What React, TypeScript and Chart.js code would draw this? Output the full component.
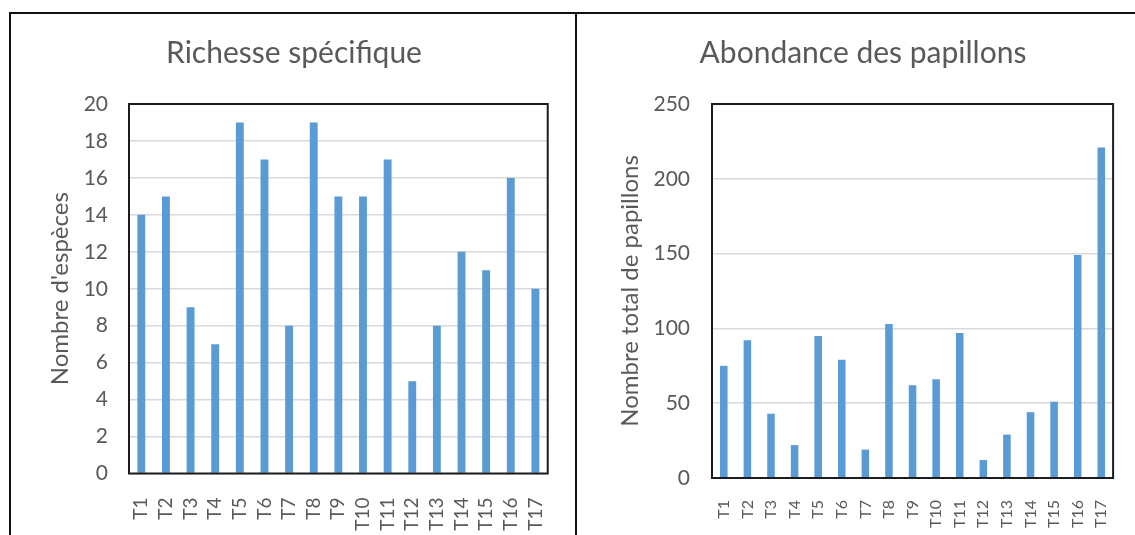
import React, { useEffect, useRef } from "react";
import { Chart, registerables } from "chart.js";

Chart.register(...registerables);

// ---- data ----
const categories = ["T1", "T2", "T3", "T4", "T5", "T6", "T7", "T8", "T9", "T10", "T11", "T12", "T13", "T14", "T15", "T16", "T17"];
const richnessValues = [14, 15, 9, 7, 19, 17, 8, 19, 15, 15, 17, 5, 8, 12, 11, 16, 10];
const abundanceValues = [75, 92, 43, 22, 95, 79, 19, 103, 62, 66, 97, 12, 29, 44, 51, 149, 221];
const richnessTitle = "Richesse spécifique";
const richnessAxisTitle = "Nombre d'espèces";
const abundanceTitle = "Abondance des papillons";
const abundanceAxisTitle = "Nombre total de papillons";
const richnessMax = 20;
const richnessStep = 2;
const abundanceMax = 250;
const abundanceStep = 50;

const FONT = "Lato";
const TEXT = "#595959";
const BAR = "#5B9BD5";
const GRID = "#D9D9D9";

const plotBorder = {
  id: "plotBorder",
  afterDatasetsDraw(chart: any) {
    const { ctx, chartArea: a } = chart;
    ctx.save();
    ctx.strokeStyle = "#1c1c1c";
    ctx.lineWidth = 2;
    ctx.strokeRect(a.left, a.top, a.right - a.left, a.bottom - a.top);
    ctx.restore();
  },
};

type P = {
  values: number[];
  title: string;
  yTitle: string;
  max: number;
  step: number;
  padLeft: number;
  padRight: number;
  yWidth: number;
  yTitlePad: number;
  yPad: number;
  xHeight: number;
  xPad: number;
  xFont: number;
};

function makeConfig(p: P): any {
  return {
    type: "bar",
    data: {
      labels: categories,
      datasets: [
        {
          data: p.values,
          backgroundColor: BAR,
          borderWidth: 0,
          barPercentage: 0.32,
          categoryPercentage: 1,
        },
      ],
    },
    options: {
      responsive: false,
      animation: false,
      layout: { padding: { left: p.padLeft, right: p.padRight, top: 0, bottom: 0 } },
      plugins: {
        legend: { display: false },
        tooltip: { enabled: false },
        title: {
          display: true,
          text: p.title,
          color: TEXT,
          font: { family: FONT, size: 30, weight: "normal", lineHeight: 1.2 },
          padding: { top: 21, bottom: 33 },
        },
      },
      scales: {
        x: {
          grid: { display: false },
          border: { display: false },
          ticks: {
            color: TEXT,
            font: { family: FONT, size: p.xFont },
            minRotation: 90,
            maxRotation: 90,
            autoSkip: false,
            padding: p.xPad,
          },
          afterFit: (s: any) => {
            s.height = p.xHeight;
          },
        },
        y: {
          min: 0,
          max: p.max,
          ticks: {
            stepSize: p.step,
            color: TEXT,
            font: { family: FONT, size: 21 },
            padding: p.yPad,
          },
          grid: { color: GRID, lineWidth: 1.5, drawTicks: false },
          border: { display: false },
          title: {
            display: true,
            text: p.yTitle,
            color: TEXT,
            font: { family: FONT, size: 24, lineHeight: 1.2 },
            padding: { top: p.yTitlePad, bottom: 0 },
          },
          afterFit: (s: any) => {
            s.width = p.yWidth;
          },
        },
      },
    },
    plugins: [plotBorder],
  };
}

function BarPanel({ p, left, top, width, height }: { p: P; left: number; top: number; width: number; height: number }) {
  const ref = useRef<HTMLCanvasElement | null>(null);
  useEffect(() => {
    if (!ref.current) return;
    const chart = new Chart(ref.current, makeConfig(p));
    return () => chart.destroy();
  }, []);
  return (
    <canvas
      ref={ref}
      width={width}
      height={height}
      style={{ position: "absolute", left, top, width, height }}
    />
  );
}

const leftP: P = {
  values: richnessValues,
  title: richnessTitle,
  yTitle: richnessAxisTitle,
  max: richnessMax,
  step: richnessStep,
  padLeft: 29,
  padRight: 27,
  yWidth: 89,
  yTitlePad: 6,
  yPad: 21,
  xHeight: 61.5,
  xPad: 16,
  xFont: 19,
};

const rightP: P = {
  values: abundanceValues,
  title: abundanceTitle,
  yTitle: abundanceAxisTitle,
  max: abundanceMax,
  step: abundanceStep,
  padLeft: 30,
  padRight: 17,
  yWidth: 104,
  yTitlePad: 8,
  yPad: 22,
  xHeight: 57,
  xPad: 14,
  xFont: 16,
};

export default function App() {
  const line = (s: React.CSSProperties) => (
    <div style={{ position: "absolute", background: "#111", ...s }} />
  );
  return (
    <div
      style={{
        position: "absolute",
        left: 0,
        top: 0,
        width: 1135,
        height: 535,
        overflow: "hidden",
        background: "#fff",
      }}
    >
      <BarPanel p={leftP} left={11} top={14} width={564} height={521} />
      <BarPanel p={rightP} left={578} top={14} width={557} height={521} />
      {line({ left: 9, top: 12, width: 1126, height: 2 })}
      {line({ left: 9, top: 12, width: 2, height: 523 })}
      {line({ left: 575, top: 12, width: 2, height: 523 })}
    </div>
  );
}
